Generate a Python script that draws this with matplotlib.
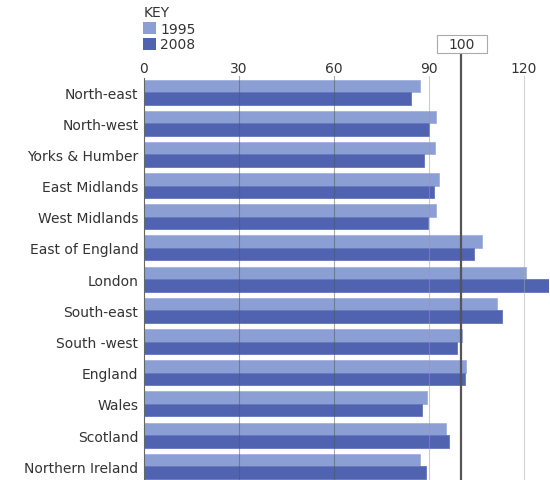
import numpy as np
import matplotlib.pyplot as plt
from matplotlib.patches import Rectangle

regions = ['North-east', 'North-west', 'Yorks & Humber', 'East Midlands',
           'West Midlands', 'East of England', 'London', 'South-east',
           'South -west', 'England', 'Wales', 'Scotland', 'Northern Ireland']
vals_1995 = [87.2, 92.3, 91.8, 93.2, 92.3, 106.8, 120.7, 111.6, 100.4, 101.6, 89.5, 95.4, 87.2]
vals_2008 = [84.4, 90.0, 88.3, 91.5, 89.7, 104.3, 128.0, 113.0, 98.8, 101.4, 87.9, 96.2, 89.1]
xticks = [0, 30, 60, 90, 120]

light = '#8c9fd4'
dark = '#4f63b0'
txt = '#333333'
W, H = 550, 481

fig = plt.figure(figsize=(5.5, 4.81), dpi=100)
ax = fig.add_axes([144 / W, 0, 405 / W, 402 / H])

y = np.arange(len(regions))
h = 0.40
ax.barh(y - h / 2, vals_1995, height=h, color=light, edgecolor='#a3b2de', linewidth=0.6, zorder=2)
ax.barh(y + h / 2, vals_2008, height=h, color=dark, edgecolor='#6576bd', linewidth=0.6, zorder=2)

ax.set_xlim(0, 127.9)
ax.set_ylim(12.44, -0.45)

# vertical guide lines drawn over the bars
for v, c in [(30, '#555555'), (60, '#555555'), (90, '#999999'), (120, '#aaaaaa')]:
    ax.axvline(v, color=c, lw=0.8, alpha=0.5, zorder=3, ymax=1.005, clip_on=False)
ax.axvline(100, color='#555555', lw=1.6, zorder=4, ymax=(H - 54) / 402, clip_on=False)

# boxed label for the 100 line
fig.patches.append(Rectangle((437 / W, 1 - 54 / H), 50 / W, 18 / H,
                             transform=fig.transFigure, fc='white', ec='#aaaaaa', lw=0.8))
fig.text(462 / W, 1 - 45 / H, '100', fontsize=10, color=txt, ha='center', va='center')

ax.xaxis.tick_top()
ax.set_xticks(xticks)
ax.set_xticklabels([str(t) for t in xticks])
ax.tick_params(axis='x', length=0, pad=2, labelsize=10, labelcolor=txt)
ax.set_yticks(y)
ax.set_yticklabels(regions)
ax.tick_params(axis='y', length=0, pad=4, labelsize=10, labelcolor=txt)

for s in ['top', 'right', 'bottom']:
    ax.spines[s].set_visible(False)
ax.spines['left'].set_color('#666666')
ax.spines['left'].set_linewidth(0.8)

# key
fig.text(144 / W, 1 - 13 / H, 'KEY', fontsize=10, color=txt, va='center', ha='left')
fig.patches.append(Rectangle((143 / W, 1 - 35 / H), 13 / W, 12 / H,
                             transform=fig.transFigure, fc=light, ec='none'))
fig.patches.append(Rectangle((143 / W, 1 - 51 / H), 13 / W, 12 / H,
                             transform=fig.transFigure, fc=dark, ec='none'))
fig.text(160 / W, 1 - 29.5 / H, '1995', fontsize=10, color=txt, va='center', ha='left')
fig.text(160 / W, 1 - 45 / H, '2008', fontsize=10, color=txt, va='center', ha='left')

fig.savefig('out.png', dpi=100)
